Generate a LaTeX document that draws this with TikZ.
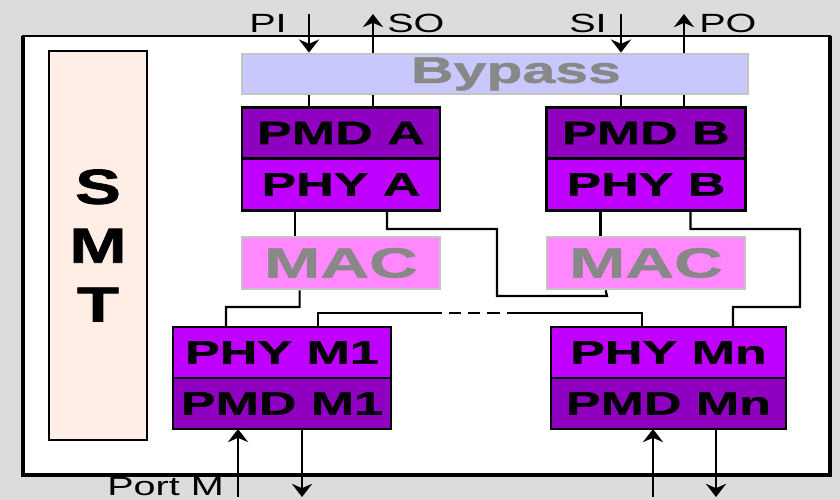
\documentclass[tikz,border=0pt]{standalone}
\usepackage{fontspec}
\setmainfont{Liberation Sans}
\newfontfamily\widefont[FakeStretch=1.6, BoldFeatures={FakeBold=1.2}]{Liberation Sans}
\newfontfamily\smtfont[FakeStretch=1.4, BoldFeatures={FakeBold=1.5}]{Liberation Sans}
\newfontfamily\pinfont[FakeStretch=1.5]{Liberation Sans}
\usetikzlibrary{arrows.meta, positioning, calc}
\definecolor{bggray}{RGB}{220,220,220}
\definecolor{smtfill}{RGB}{255,238,230}
\definecolor{bypassfill}{RGB}{200,200,252}
\definecolor{pmdfill}{RGB}{144,0,192}
\definecolor{phyfill}{RGB}{192,0,255}
\definecolor{macfill}{RGB}{255,136,255}
\definecolor{softgray}{RGB}{196,196,196}
\definecolor{txtgray}{RGB}{136,136,136}
\tikzset{
  layer/.style={rectangle, draw=black, line width=1.6pt, outer sep=0pt, inner sep=0pt,
                minimum height=1.03cm, font=\widefont\bfseries\fontsize{18.5}{20}\selectfont},
  pmd/.style={layer, fill=pmdfill},
  phy/.style={layer, fill=phyfill},
  mac/.style={rectangle, draw=softgray, line width=1.6pt, fill=macfill, text=txtgray,
              minimum width=3.96cm, minimum height=1.04cm, inner sep=0pt,
              font=\widefont\bfseries\fontsize{24}{26}\selectfont},
  bypass/.style={rectangle, draw=softgray, line width=1.6pt, fill=bypassfill,
                 minimum width=10.12cm, minimum height=0.8cm, inner sep=0pt},
  bypasslbl/.style={text=txtgray, xshift=0.42cm, font=\widefont\bfseries\fontsize{21}{23}\selectfont},
  smtbox/.style={rectangle, draw=black, line width=1.6pt, fill=smtfill, align=center,
                 minimum width=1.96cm, minimum height=7.78cm,
                 font=\smtfont\bfseries\fontsize{28}{33.5}\selectfont},
  pinlbl/.style={inner sep=0pt, font=\pinfont\fontsize{15}{17}\selectfont},
  wire/.style={line width=1.25pt},
  arr/.style={wire, -{Stealth[length=7.5pt, width=11.5pt, inset=2.5pt]}}
}

\begin{document}
\begin{tikzpicture}[x=0.02cm, y=-0.02cm]
  \useasboundingbox (0,0) rectangle (840,500);
  \fill[bggray] (0,0) rectangle (840,500);

  % Frame
  \filldraw[fill=white, line width=1.2pt] (23,36) rectangle (830,475);
  \draw[line width=2.4pt] (23,36) -- (23,475) -- (830,475) -- (830,36);

  % SMT
  \node[smtbox] (smt) at (98,245.5) {S\\M\\T};

  % Bypass and port A / port B stacks
  \node[bypass, label={[bypasslbl]center:Bypass}] (bypass) at (495,74) {};
  \node[pmd, minimum width=3.96cm] (pmdA) at (341,133) {PMD A};
  \node[phy, minimum width=3.96cm, below=0pt of pmdA] (phyA) {PHY A};
  \node[pmd, minimum width=3.98cm] (pmdB) at (646,133) {PMD B};
  \node[phy, minimum width=3.98cm, below=0pt of pmdB] (phyB) {PHY B};

  % MACs
  \node[mac] (macA) at (341,263) {MAC};
  \node[mac] (macB) at (646,263) {MAC};

  % Port M stacks
  \node[phy, minimum width=4.36cm, minimum height=1.02cm] (phyM1) at (282,352.5) {PHY M1};
  \node[pmd, minimum width=4.36cm, minimum height=1.02cm, below=0pt of phyM1] (pmdM1) {PMD M1};
  \node[phy, minimum width=4.7cm, minimum height=1.02cm] (phyMn) at (668.5,352.5) {PHY Mn};
  \node[pmd, minimum width=4.7cm, minimum height=1.02cm, below=0pt of phyMn] (pmdMn) {PMD Mn};

  % Pin labels
  \node[pinlbl, anchor=base east] (pilbl) at (287,33) {PI};
  \node[pinlbl, anchor=base west] (solbl) at (387,33) {SO};
  \node[pinlbl, anchor=base east] (silbl) at (607,33) {SI};
  \node[pinlbl, anchor=base west] (polbl) at (699,33) {PO};
  \node[pinlbl, anchor=base west] (portlbl) at (107,496) {Port M};

  \coordinate (piend) at (309,14);
  \coordinate (soend) at (373,14);
  \coordinate (siend) at (621,14);
  \coordinate (poend) at (684,14);
  \coordinate (m1in) at (238,497);
  \coordinate (m1out) at (302,497);
  \coordinate (mnin) at (653,497);
  \coordinate (mnout) at (716,497);

  % Serial pins
  \draw[arr] (piend) -- (bypass.north -| piend);
  \draw[arr] (bypass.north -| soend) -- (soend);
  \draw[arr] (siend) -- (bypass.north -| siend);
  \draw[arr] (bypass.north -| poend) -- (poend);

  % Bypass -> PMD
  \draw[wire] (bypass.south -| piend) -- (pmdA.north -| piend);
  \draw[wire] (bypass.south -| soend) -- (pmdA.north -| soend);
  \draw[wire] (bypass.south -| siend) -- (pmdB.north -| siend);
  \draw[wire] (bypass.south -| poend) -- (pmdB.north -| poend);

  % PHY -> MAC
  \draw[wire] ($(phyA.south west)+(53,0)$) coordinate (a1) -- (macA.north -| a1);
  \draw[wire] ($(phyA.south west)+(145,0)$) |- (497,229) |- (607,296) -- ($(macB.south west)+(60,0)$);
  \draw[wire] ($(phyB.south west)+(54,0)$) coordinate (b1) -- (macB.north -| b1);
  \draw[wire] ($(phyB.south west)+(144,0)$) |- (800,229) |- (733,307) -- ($(phyMn.north west)+(182,0)$);

  % MAC -> PHY M1, ring
  \draw[wire] ($(macA.south west)+(59,0)$) |- (226,307) -- ($(phyM1.north west)+(53,0)$);
  \draw[wire] ($(phyM1.north west)+(145,0)$) |- (440,313) coordinate (busL);
  \coordinate (busR) at (507,313);
  \draw[wire, dash pattern=on 7pt off 4pt, dash phase=-5pt] (busL) -- (busR);
  \draw[wire] (busR) -| ($(phyMn.north west)+(91,0)$);

  % Port M lines
  \draw[arr] (m1in) -- (pmdM1.south -| m1in);
  \draw[arr] (pmdM1.south -| m1out) -- (m1out);
  \draw[arr] (mnin) -- (pmdMn.south -| mnin);
  \draw[arr] (pmdMn.south -| mnout) -- (mnout);
\end{tikzpicture}
\end{document}
